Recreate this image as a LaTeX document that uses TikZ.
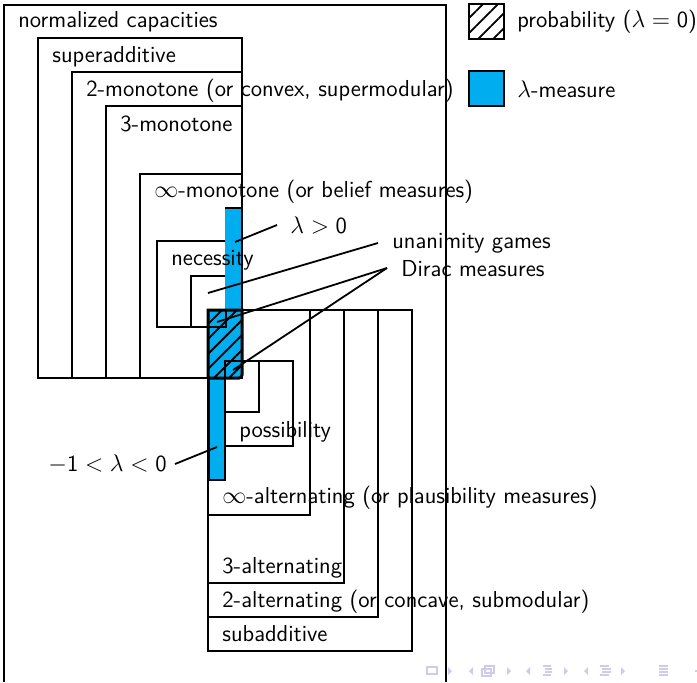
\documentclass[tikz,border=0pt]{standalone}
\usepackage{fontspec}
\usetikzlibrary{patterns.meta}
\definecolor{lamblue}{RGB}{0,174,239}
\definecolor{navcol}{RGB}{205,205,235}
\begin{document}
\begin{tikzpicture}[x=0.5pt,y=-0.5pt,
  box/.style={draw=black,line width=1pt},
  thickbox/.style={draw=black,line width=1.5pt},
  lbl/.style={anchor=base west,inner sep=0pt,font=\sffamily\fontsize{11.55}{13.5}\selectfont},
  lead/.style={draw=black,line width=0.9pt},
  lamfill/.style={fill=lamblue,draw=black,line width=1pt},
  hatch/.style={pattern={Lines[angle=45,distance=5.3pt,line width=0.95pt]},pattern color=black},
  navtri/.style={fill=navcol,draw=none},
  navline/.style={draw=navcol,line width=0.6pt}]
\useasboundingbox (0,0) rectangle (697,682);
% outer box
\draw[box] (4,682) -- (4,5) -- (446,5) -- (446,682);
% monotone family
\draw[box] (38,38) rectangle (242,378);
\draw[box] (72,72) rectangle (242,378);
\draw[box] (106,106) rectangle (242,378);
\draw[box] (140,174) rectangle (242,378);
\draw[box] (157,241) rectangle (242,327);
\draw[box] (191,276) rectangle (226,327);
% alternating family
\draw[box] (208,310) rectangle (412,651);
\draw[box] (208,310) rectangle (378,617);
\draw[box] (208,310) rectangle (344,583);
\draw[box] (208,310) rectangle (310,515);
\draw[box] (225,361) rectangle (293,446);
\draw[box] (225,361) rectangle (259,412);
% lambda-measures
\fill[lamblue] (225,208) rectangle (242,378);
\draw[box] (225,208) -- (242,208) -- (242,378);
\fill[lamblue] (208,310) rectangle (225,480);
\draw[box] (208,378) -- (208,480) -- (225,480) -- (225,378);
% probability
\path[hatch] (208,310) rectangle (242,378);
\draw[thickbox] (208,378) -- (208,310) -- (242,310) -- (242,374) [rounded corners=1.5pt] -- (242,378) -- (208,378);
\draw[box] (208,327) -- (226,327) -- (226,310);
\draw[box] (225,378) -- (225,361) -- (242,361);
\draw[thickbox] (208,378) -- (208,480);
% labels
\node[lbl] (nc) at (18,27) {normalized capacities};
\node[lbl] (sup) at (52,62) {superadditive};
\node[lbl] (twomon) at (86,96) {2-monotone (or convex, supermodular)};
\node[lbl] (threemon) at (120,131) {3-monotone};
\node[lbl] (infmon) at (154,197) {$\infty$-monotone (or belief measures)};
\node[lbl] (nec) at (171,265) {necessity};
\node[lbl] (lpos) at (290,233) {$\lambda>\mathsf{0}$};
\node[lbl] (una) at (392,248) {unanimity games};
\node[lbl] (dirac) at (401,276) {Dirac measures};
\node[lbl] (poss) at (239,437) {possibility};
\node[lbl] (lneg) at (48,471) {$-\mathsf{1}<\lambda<\mathsf{0}$};
\node[lbl] (infalt) at (222,503) {$\infty$-alternating (or plausibility measures)};
\node[lbl] (threealt) at (222,573) {3-alternating};
\node[lbl] (twoalt) at (222,607) {2-alternating (or concave, submodular)};
\node[lbl] (subadd) at (222,641) {subadditive};
% leader lines
\coordinate (lposA) at (277,225);
\coordinate (lposB) at (235,242);
\coordinate (unaA) at (378,243);
\coordinate (unaB) at (208,293);
\coordinate (dirA) at (387,268);
\coordinate (dirB) at (217,322);
\coordinate (dirC) at (233,370);
\coordinate (negA) at (175,464);
\coordinate (negB) at (217,447);
\draw[lead] (lposA) -- (lposB);
\draw[lead] (unaA) -- (unaB);
\draw[lead] (dirA) -- (dirB);
\draw[lead] (dirA) -- (dirC);
\draw[lead] (negA) -- (negB);
% legend
\path[fill=white,hatch] (469,4) rectangle (504,39);
\draw[box] (469,4) rectangle (504,39);
\node[lbl,anchor=west] (lprob) at (517,22) {probability ($\lambda=\mathsf{0}$)};
\draw[lamfill] (469,71) rectangle (504,106);
\node[lbl,anchor=west] (lmeas) at (517,89) {$\lambda$-measure};
% navigation symbols
\draw[navline] (427,667) rectangle (437,674);
\fill[navtri] (448,667) -- (452,671) -- (448,675) -- cycle;
\fill[navtri] (473,667) -- (469,671) -- (473,675) -- cycle;
\draw[navline] (482,669) rectangle (491,676);
\draw[navline] (485,666) rectangle (494,673);
\fill[navtri] (507,667) -- (511,671) -- (507,675) -- cycle;
\fill[navtri] (530,667) -- (526,671) -- (530,675) -- cycle;
\draw[navline] (543,666) -- (551,666) (545,669) -- (552,669) (545,672) -- (552,672) (543,675) -- (551,675);
\fill[navtri] (564,667) -- (568,671) -- (564,675) -- cycle;
\fill[navtri] (588,667) -- (584,671) -- (588,675) -- cycle;
\draw[navline] (600,666) -- (609,666) (602,669) -- (611,669) (602,672) -- (611,672) (600,675) -- (609,675);
\fill[navtri] (621,667) -- (625,671) -- (621,675) -- cycle;
\draw[navline] (659,666) -- (668,666) (659,669) -- (668,669) (659,672) -- (668,672) (659,675) -- (668,675);
\fill[navtri] (695,670) rectangle (697,672);
\end{tikzpicture}
\end{document}
